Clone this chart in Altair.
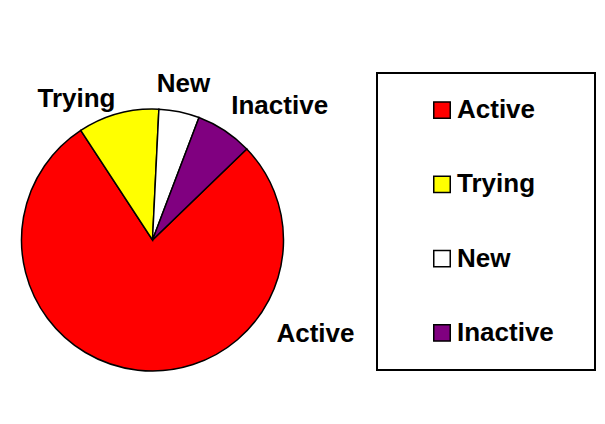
import math
import altair as alt
import pandas as pd

categories = ["Active", "Trying", "New", "Inactive"]
values = [78, 10, 5, 7]
colors = ["#FF0000", "#FFFF00", "#FFFFFF", "#800080"]

df = pd.DataFrame({
    "category": categories,
    "value": values,
    "order": list(range(len(categories))),
})

FONT = "Liberation Sans"
FS = 26
start = math.radians(46)

theta_scale = alt.Scale(range=[start, start + 2 * math.pi], domain=[0, sum(values)])
color = alt.Color("category:N",
                  scale=alt.Scale(domain=categories, range=colors),
                  legend=None)

arcs = alt.Chart(df).mark_arc(outerRadius=131, stroke="black",
                              strokeWidth=1.5).encode(
    theta=alt.Theta("value:Q", stack=True, scale=theta_scale),
    order=alt.Order("order:Q", sort="ascending"),
    color=color,
)

# label placement (radius, angular offset from slice middle, radians)
label_style = {
    "Active": (188, -1.16),
    "Trying": (160, -0.23),
    "New": (159, -0.01),
    "Inactive": (185, 0.175),
}

labels = []
for cat, (r, off) in label_style.items():
    labels.append(
        alt.Chart(df).transform_window(
            cum="sum(value)", sort=[alt.SortField("order")]
        ).transform_calculate(
            mid="datum.cum - datum.value / 2"
        ).transform_filter(
            f"datum.category === '{cat}'"
        ).mark_text(
            radius=r, thetaOffset=off, fontSize=FS, fontWeight="bold",
            font=FONT, color="black", align="center", baseline="middle"
        ).encode(
            theta=alt.Theta("mid:Q", scale=theta_scale),
            text="category:N",
        )
    )

pie = alt.layer(arcs, *labels).properties(width=289, height=334)

leg_y = alt.Y("category:N",
              scale=alt.Scale(type="point", domain=categories, padding=0.5),
              axis=None)
leg_base = alt.Chart(df).encode(y=leg_y)
swatch = leg_base.mark_square(size=272, stroke="black", strokeWidth=1.5,
                              opacity=1).encode(x=alt.value(65), color=color)
leg_text = leg_base.mark_text(align="left", baseline="middle", fontSize=FS,
                              fontWeight="bold", font=FONT,
                              color="black").encode(x=alt.value(80),
                                                    text="category:N")
legend_panel = alt.layer(swatch, leg_text).properties(
    width=218, height=297,
    view=alt.ViewBackground(stroke="black", strokeWidth=2))

chart = alt.hconcat(pie, legend_panel, spacing=80, bounds="flush").properties(
    padding={"left": 0, "top": 63, "right": 0, "bottom": 0},
    background="white",
).configure_view(strokeWidth=0)

chart.save("out.html", embed_options={"renderer": "svg", "actions": False})
